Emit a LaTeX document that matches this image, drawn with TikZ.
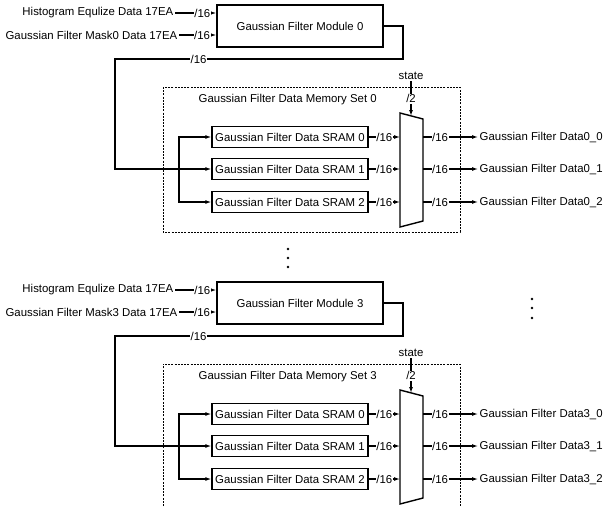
\documentclass[tikz,border=0pt]{standalone}
\usepackage{fontspec}
\setmainfont{Liberation Sans}
\usepackage{tikz}
\usetikzlibrary{arrows.meta}
\newcommand{\Fnt}{\fontsize{11.4}{13}\selectfont}
\tikzstyle{Module}=[draw,line width=1.4pt,minimum width=166pt,
minimum height=42pt,inner sep=0pt,font=\Fnt]
\tikzstyle{Sram}=[draw,line width=1.4pt,minimum width=156pt,
minimum height=21pt,inner sep=0pt,font=\Fnt]
\tikzstyle{Txt}=[inner sep=1.5pt,font=\Fnt]
\tikzstyle{Wire}=[line width=1.1pt,-{Latex[length=6pt,width=4pt]}]
\tikzstyle{Plain}=[line width=1.1pt]
\tikzstyle{Width}=[fill=white,inner sep=.6pt,font=\Fnt]
\tikzstyle{Mem}=[line width=1pt,dash pattern=on 2pt off 1.2pt]
\tikzstyle{Dot}=[circle,fill,inner sep=0pt,minimum size=2.8pt]

\begin{document}
\begin{tikzpicture}[x=1pt,y=-1pt]
            \useasboundingbox(0,0)rectangle(609,506);
            % set 0
            \node[Txt,anchor=east](hist0)at(175,13){Histogram Equlize Data 17EA};
            \node[Txt,anchor=east](mask0)at(179,35)
                {Gaussian Filter Mask0 Data 17EA};
            \node[Module](mod0)at(300,26){Gaussian Filter Module 0};
            \coordinate(turn0)at(403,59);
            \coordinate(fb0)at(115,59);
            \coordinate(br0)at(179,169);
            \draw[Mem](163,87)rectangle(460,232);
            \node[Txt,anchor=west](mem0)at(197,100)
                {Gaussian Filter Data Memory Set 0};
            \node[Sram](sram00)at(290,137){Gaussian Filter Data SRAM 0};
            \node[Sram](sram01)at(290,169){Gaussian Filter Data SRAM 1};
            \node[Sram](sram02)at(290,202){Gaussian Filter Data SRAM 2};
            \coordinate(m0a)at(400,113);
            \coordinate(m0b)at(423,119);
            \coordinate(m0c)at(423,221);
            \coordinate(m0d)at(400,227);
            \draw[Plain,line width=1.4pt](m0a)--(m0b)--(m0c)--(m0d)--cycle;
            \node[Txt](st0)at(411,76){state};
            \coordinate(sel0)at(411,116);
            \node[Txt,anchor=west](out00)at(478,137){Gaussian Filter Data0\_0};
            \node[Txt,anchor=west](out01)at(478,169){Gaussian Filter Data0\_1};
            \node[Txt,anchor=west](out02)at(478,202){Gaussian Filter Data0\_2};
            \draw[Wire](hist0)--node[Width,pos=.66]{/16}(hist0-|mod0.west);
            \draw[Wire](mask0)--node[Width,pos=.62]{/16}(mask0-|mod0.west);
            \draw[Wire](mod0)-|(turn0)--node[Width,pos=.71]{/16}(fb0)|-(sram01);
            \draw[Wire](br0)|-(sram00);
            \draw[Wire](br0)|-(sram02);
            \draw[Wire](sram00)--node[Width,pos=.5]{/16}(sram00-|m0a);
            \draw[Wire](sram01)--node[Width,pos=.5]{/16}(sram01-|m0a);
            \draw[Wire](sram02)--node[Width,pos=.5]{/16}(sram02-|m0a);
            \draw[Wire](st0)--node[Width,pos=.5]{/2}(sel0);
            \draw[Wire](out00-|m0b)--node[Width,pos=.31]{/16}(out00);
            \draw[Wire](out01-|m0b)--node[Width,pos=.31]{/16}(out01);
            \draw[Wire](out02-|m0b)--node[Width,pos=.31]{/16}(out02);
            % dots
            \node[Dot](d1)at(288,249){};
            \node[Dot](d2)at(288,258){};
            \node[Dot](d3)at(288,267){};
            \node[Dot](d4)at(532,299){};
            \node[Dot](d5)at(532,308){};
            \node[Dot](d6)at(532,318){};
            % set 3
            \node[Txt,anchor=east](hist3)at(175,290){Histogram Equlize Data 17EA};
            \node[Txt,anchor=east](mask3)at(179,312)
                {Gaussian Filter Mask3 Data 17EA};
            \node[Module](mod3)at(300,303){Gaussian Filter Module 3};
            \coordinate(turn3)at(403,336);
            \coordinate(fb3)at(115,336);
            \coordinate(br3)at(179,446);
            \draw[Mem](163,506)|-(460,364)--(460,506);
            \node[Txt,anchor=west](mem3)at(197,377)
                {Gaussian Filter Data Memory Set 3};
            \node[Sram](sram30)at(290,414){Gaussian Filter Data SRAM 0};
            \node[Sram](sram31)at(290,446){Gaussian Filter Data SRAM 1};
            \node[Sram](sram32)at(290,479){Gaussian Filter Data SRAM 2};
            \coordinate(m3a)at(400,390);
            \coordinate(m3b)at(423,396);
            \coordinate(m3c)at(423,498);
            \coordinate(m3d)at(400,504);
            \draw[Plain,line width=1.4pt](m3a)--(m3b)--(m3c)--(m3d)--cycle;
            \node[Txt](st3)at(411,353){state};
            \coordinate(sel3)at(411,393);
            \node[Txt,anchor=west](out30)at(478,414){Gaussian Filter Data3\_0};
            \node[Txt,anchor=west](out31)at(478,446){Gaussian Filter Data3\_1};
            \node[Txt,anchor=west](out32)at(478,479){Gaussian Filter Data3\_2};
            \draw[Wire](hist3)--node[Width,pos=.66]{/16}(hist3-|mod3.west);
            \draw[Wire](mask3)--node[Width,pos=.62]{/16}(mask3-|mod3.west);
            \draw[Wire](mod3)-|(turn3)--node[Width,pos=.71]{/16}(fb3)|-(sram31);
            \draw[Wire](br3)|-(sram30);
            \draw[Wire](br3)|-(sram32);
            \draw[Wire](sram30)--node[Width,pos=.5]{/16}(sram30-|m3a);
            \draw[Wire](sram31)--node[Width,pos=.5]{/16}(sram31-|m3a);
            \draw[Wire](sram32)--node[Width,pos=.5]{/16}(sram32-|m3a);
            \draw[Wire](st3)--node[Width,pos=.5]{/2}(sel3);
            \draw[Wire](out30-|m3b)--node[Width,pos=.31]{/16}(out30);
            \draw[Wire](out31-|m3b)--node[Width,pos=.31]{/16}(out31);
            \draw[Wire](out32-|m3b)--node[Width,pos=.31]{/16}(out32);
        \end{tikzpicture}
\end{document}
